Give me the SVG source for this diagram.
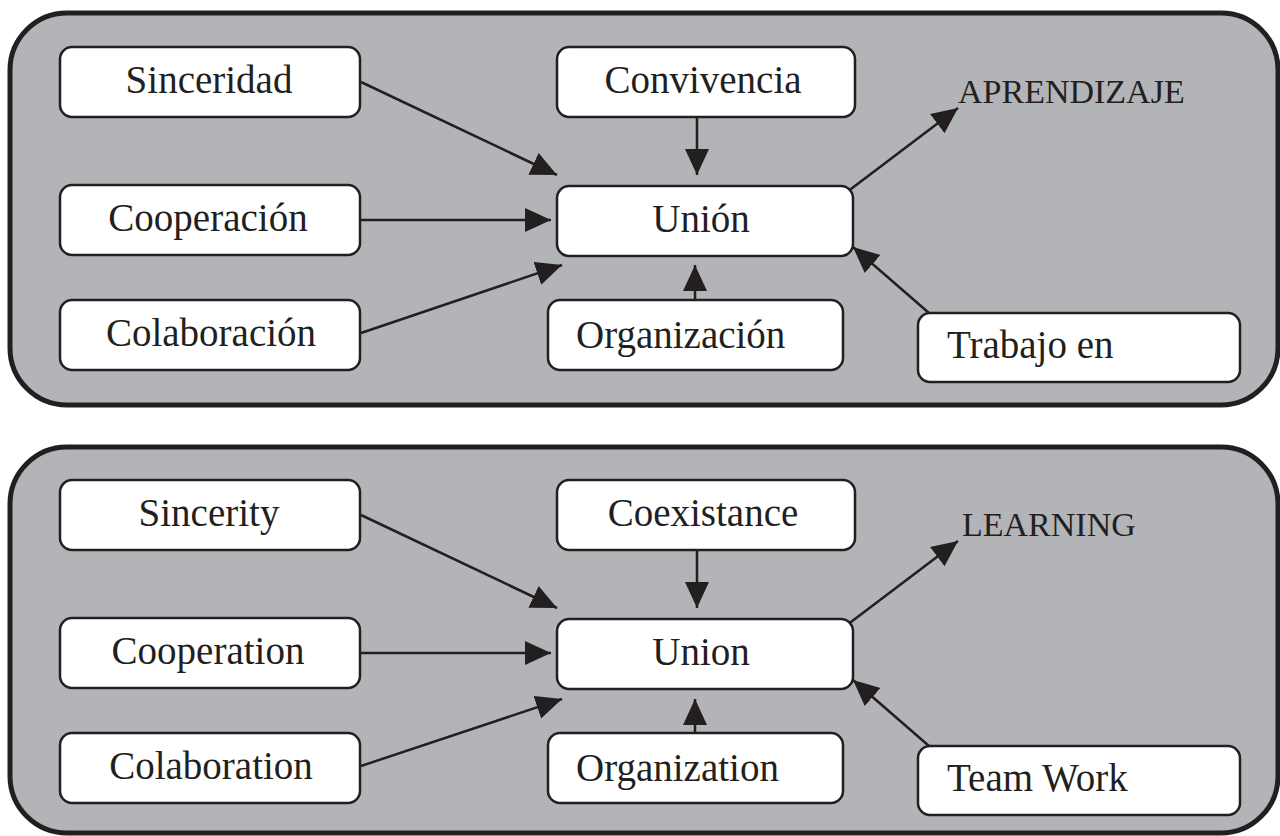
<svg xmlns="http://www.w3.org/2000/svg" width="1280" height="836" viewBox="0 0 1280 836">
<style>
.panel{fill:#b3b4b8;stroke:#231f20;stroke-width:5}
.box{fill:#ffffff;stroke:#231f20;stroke-width:2.5}
.t{font-family:"Liberation Serif","DejaVu Serif",serif;font-size:39px;fill:#231f20}
.c{text-anchor:middle}
.cap{font-size:34px}
.arr{stroke:#231f20;stroke-width:2.5;fill:none;marker-end:url(#ah)}
</style>
<defs>
<marker id="ah" markerUnits="userSpaceOnUse" markerWidth="28" markerHeight="26" refX="26" refY="12" orient="auto">
<path d="M0,0 L26,12 L0,24 Z" fill="#231f20"/>
</marker>
</defs>
<rect width="1280" height="836" fill="#ffffff"/>
<g id="panel1">
<rect class="panel" x="10" y="13" width="1268" height="392" rx="57"/>
</g>
<g id="panel2">
<rect class="panel" x="10" y="447" width="1268" height="386" rx="57"/>
</g>
<g id="connectors">
<line class="arr" x1="361" y1="82" x2="557" y2="175"/>
<line class="arr" x1="361" y1="220" x2="551" y2="220"/>
<line class="arr" x1="361" y1="333" x2="562" y2="265"/>
<line class="arr" x1="697" y1="117" x2="697" y2="175"/>
<line class="arr" x1="695" y1="313" x2="695" y2="265"/>
<line class="arr" x1="843" y1="195" x2="958" y2="108"/>
<line class="arr" x1="929" y1="313" x2="853" y2="247"/>
<line class="arr" x1="361" y1="515" x2="557" y2="608"/>
<line class="arr" x1="361" y1="653" x2="551" y2="653"/>
<line class="arr" x1="361" y1="766" x2="562" y2="699"/>
<line class="arr" x1="697" y1="550" x2="697" y2="608"/>
<line class="arr" x1="695" y1="746" x2="695" y2="699"/>
<line class="arr" x1="843" y1="628" x2="958" y2="541"/>
<line class="arr" x1="929" y1="746" x2="853" y2="680"/>
</g>
<g id="sinceridad"><rect class="box" x="60" y="47" width="300" height="70" rx="12"/><text class="t c" x="209" y="93">Sinceridad</text></g>
<g id="cooperacion"><rect class="box" x="60" y="185" width="300" height="70" rx="12"/><text class="t c" x="208" y="231">Cooperación</text></g>
<g id="colaboracion"><rect class="box" x="60" y="300" width="300" height="70" rx="12"/><text class="t c" x="211" y="346">Colaboración</text></g>
<g id="convivencia"><rect class="box" x="557" y="47" width="298" height="70" rx="12"/><text class="t c" x="703" y="93">Convivencia</text></g>
<g id="union-es"><rect class="box" x="557" y="186" width="296" height="70" rx="12"/><text class="t c" x="701" y="232">Unión</text></g>
<g id="organizacion"><rect class="box" x="548" y="300" width="295" height="70" rx="12"/><text class="t" x="576" y="348">Organización</text></g>
<g id="trabajo"><rect class="box" x="918" y="313" width="322" height="69" rx="12"/><text class="t" x="947" y="358">Trabajo en</text></g>
<g id="aprendizaje"><text class="t cap" x="958" y="103">APRENDIZAJE</text></g>
<g id="sincerity"><rect class="box" x="60" y="480" width="300" height="70" rx="12"/><text class="t c" x="209" y="526">Sincerity</text></g>
<g id="cooperation"><rect class="box" x="60" y="618" width="300" height="70" rx="12"/><text class="t c" x="208" y="664">Cooperation</text></g>
<g id="colaboration"><rect class="box" x="60" y="733" width="300" height="70" rx="12"/><text class="t c" x="211" y="779">Colaboration</text></g>
<g id="coexistance"><rect class="box" x="557" y="480" width="298" height="70" rx="12"/><text class="t c" x="703" y="526">Coexistance</text></g>
<g id="union-en"><rect class="box" x="557" y="619" width="296" height="70" rx="12"/><text class="t c" x="701" y="665">Union</text></g>
<g id="organization"><rect class="box" x="548" y="733" width="295" height="70" rx="12"/><text class="t" x="576" y="781">Organization</text></g>
<g id="teamwork"><rect class="box" x="918" y="746" width="322" height="69" rx="12"/><text class="t" x="947" y="791">Team Work</text></g>
<g id="learning"><text class="t cap" x="962" y="536">LEARNING</text></g>
</svg>
